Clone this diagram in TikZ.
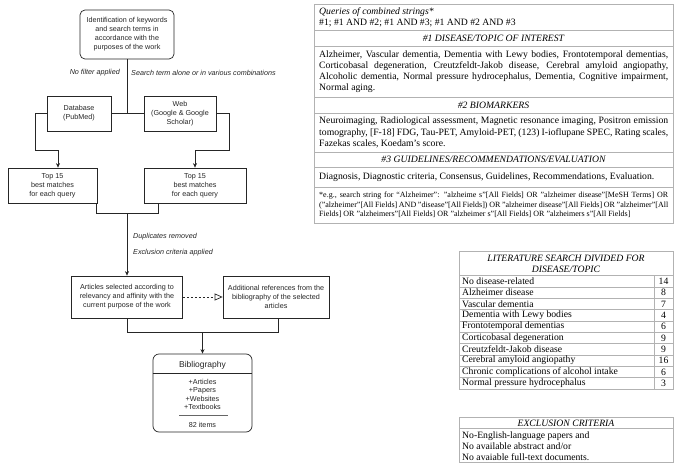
\documentclass[tikz,border=0pt]{standalone}
\usepackage{fontspec}
\setmainfont{Liberation Serif}
\newfontfamily\sansA{Liberation Sans}
\usetikzlibrary{arrows.meta}
\newcommand\fcsize{\sansA\fontsize{7.2}{9}\selectfont}
\newcommand\tbsize{\fontsize{9.7}{11.2}\selectfont}
\newcommand\fnsize{\fontsize{8}{9.5}\selectfont}
\newcommand\jl[1]{\makebox[349pt][s]{#1}}
\colorlet{tline}{black!30}
\colorlet{fcline}{black!85}
\begin{document}
\begin{tikzpicture}[x=1pt,y=-1pt,
  fcbox/.style={draw=fcline, line width=0.7pt, font=\fcsize, align=center, inner sep=0pt, text=black!85},
  conn/.style={draw=fcline, line width=0.7pt},
  arr/.style={conn, -{Stealth[length=4.5pt,width=4pt]}},
  lbl/.style={font=\sansA\itshape\fontsize{7.2}{9}\selectfont, inner sep=0pt, text=black!85},
  tb/.style={draw=tline, line width=0.6pt},
  ttext/.style={font=\tbsize, inner sep=0pt, align=left},
  thead/.style={font=\tbsize\itshape, inner sep=0pt, align=center},
]
\fill[white, use as bounding box] (0,0) rectangle (675,463);

% ---------------- flowchart ----------------
\node[fcbox, rounded corners=5pt, minimum width=94pt, minimum height=49pt] (top) at (127,34.5)
  {Identification of keywords\\and search terms in\\accordance with the\\purposes of the work};
\node[fcbox, minimum width=64pt, minimum height=35pt] (db) at (79,113.5) {Database\\(PubMed)};
\node[fcbox, minimum width=72pt, minimum height=35pt] (web) at (180,113.5) {Web\\(Google \& Google\\Scholar)};
\node[fcbox, minimum width=89pt, minimum height=35pt] (t15a) at (52.5,185.5) {Top 15\\best matches\\for each query};
\node[fcbox, minimum width=102pt, minimum height=35pt] (t15b) at (195,185.5) {Top 15\\best matches\\for each query};
\node[fcbox, minimum width=111pt, minimum height=42pt] (art) at (127,297)
  {Articles selected according to\\relevancy and affinity with the\\current purpose of the work};
\node[fcbox, minimum width=106pt, minimum height=42pt] (add) at (276,297)
  {Additional references from the\\bibliography of the selected\\articles};
\node[fcbox, rounded corners=6pt, minimum width=99pt, minimum height=78pt] (bib) at (202.5,393) {};

\node[lbl, anchor=east] (nf) at (120,73) {No filter applied};
\node[lbl, anchor=west] (st) at (131,73) {Search term alone or in various combinations};
\node[lbl, anchor=west] (dr) at (133,237) {Duplicates removed};
\node[lbl, anchor=west] (ec) at (133,253) {Exclusion criteria applied};

\coordinate (j1) at (127,113.5);
\coordinate (cl) at (35,150);
\coordinate (cr) at (229,150);
\coordinate (m1) at (127,213);
\coordinate (m2) at (202.5,332);

\draw[conn] (top.south) -- (j1);
\draw[conn] (db.east) -- (web.west);
\draw[arr] (db.west) -| (cl) -| ([xshift=5.5pt]t15a.north);
\draw[arr] (web.east) -| (cr) -| (t15b.north);
\draw[conn] ([xshift=-1pt]t15a.south east) |- (m1);
\draw[conn] ([xshift=-37pt]t15b.south) |- (m1);
\draw[arr] (m1) -- (art.north);
\draw[conn, dash pattern=on 2pt off 2pt, -{Triangle[open, length=8pt, width=7pt]}] (art.east) -- (add.west);
\draw[conn] (art.south) |- (m2);
\draw[conn] ([xshift=2pt]add.south) |- (m2);
\draw[arr] (m2) -- (bib.north);

\node[font=\sansA\fontsize{8.5}{10}\selectfont, inner sep=0pt, text=black!85] (bibt) at (202.5,365) {Bibliography};
\draw[conn] (bib.west |- 0,373.3) -- (bib.east |- 0,373.3);
\node[font=\sansA\fontsize{7.2}{8.6}\selectfont, align=center, inner sep=0pt, text=black!85] (bibi) at (202.5,394.5)
  {+Articles\\+Papers\\+Websites\\+Textbooks};
\coordinate (sl1) at (179,415.3);
\coordinate (sl2) at (228,415.3);
\draw[draw=black!60, line width=0.5pt] (sl1) -- (sl2);
\node[font=\sansA\fontsize{7.2}{8.6}\selectfont, inner sep=0pt, text=black!85] (bibn) at (202.5,425) {82 items};

% ---------------- queries table ----------------
\draw[tb] (314,4) rectangle (673,223);
\foreach \yy in {30,46,97,113,152,167,187} \draw[tb] (314,\yy) -- (673,\yy);

\node[ttext, anchor=west] (q1) at (319,17.5)
  {\textit{Queries of combined strings*}\\\#1; \#1 AND \#2; \#1 AND \#3; \#1 AND \#2 AND \#3};
\node[thead] (h1) at (493.5,38) {\#1 DISEASE/TOPIC OF INTEREST};
\node[ttext, anchor=west] (b1) at (319,71.5)
  {\jl{Alzheimer, Vascular dementia, Dementia with Lewy bodies, Frontotemporal dementias,}\\
   \jl{Corticobasal degeneration, Creutzfeldt-Jakob disease, Cerebral amyloid angiopathy,}\\
   \jl{Alcoholic dementia, Normal pressure hydrocephalus, Dementia, Cognitive impairment,}\\
   Normal aging.};
\node[thead] (h2) at (493.5,105) {\#2 BIOMARKERS};
\node[ttext, anchor=west] (b2) at (319,132.5)
  {\jl{Neuroimaging, Radiological assessment, Magnetic resonance imaging, Positron emission}\\
   \jl{tomography, [F-18] FDG, Tau-PET, Amyloid-PET, (123) I-ioflupane SPEC, Rating scales,}\\
   Fazekas scales, Koedam’s score.};
\node[thead] (h3) at (493.5,159.5) {\#3 GUIDELINES/RECOMMENDATIONS/EVALUATION};
\node[ttext, anchor=west] (b3) at (319,177)
  {Diagnosis, Diagnostic criteria, Consensus, Guidelines, Recommendations, Evaluation.};
\node[ttext, anchor=west, font=\fnsize] (fn) at (319,205)
  {\jl{*e.g., search string for “Alzheimer”: "alzheime s"[All Fields] OR "alzheimer disease"[MeSH Terms] OR}\\
   \jl{("alzheimer"[All Fields] AND "disease"[All Fields]) OR "alzheimer disease"[All Fields] OR "alzheimer"[All}\\
   Fields] OR "alzheimers"[All Fields] OR "alzheimer s"[All Fields] OR "alzheimers s"[All Fields]};

% ---------------- literature table ----------------
\draw[tb] (459,251) rectangle (673,389);
\draw[tb] (459,275.5) -- (673,275.5);
\foreach \k in {1,...,9} \draw[tb] (459,{275.5+11.35*\k}) -- (673,{275.5+11.35*\k});
\draw[tb] (654,275.5) -- (654,389);
\node[thead] (lh) at (566,263.5) {LITERATURE SEARCH DIVIDED FOR\\DISEASE/TOPIC};
\foreach \lab/\num [count=\i from 0] in {No disease-related/14, Alzheimer disease/8, Vascular dementia/7,
    Dementia with Lewy bodies/4, Frontotemporal dementias/6, Corticobasal degeneration/9,
    Creutzfeldt-Jakob disease/9, Cerebral amyloid angiopathy/16, Chronic complications of alcohol intake/6,
    Normal pressure hydrocephalus/3} {
  \node[ttext, anchor=west] (r\i) at (462,{275.5+11.35*(\i+0.5)}) {\lab};
  \node[font=\tbsize, inner sep=0pt] (n\i) at (663.5,{275.5+11.35*(\i+0.5)}) {\num};
}

% ---------------- exclusion criteria ----------------
\draw[tb] (459,417) rectangle (673,462.5);
\draw[tb] (459,428.5) -- (673,428.5);
\node[thead] (eh) at (566,423) {EXCLUSION CRITERIA};
\node[ttext, anchor=west, font=\fontsize{9.7}{11}\selectfont] (ei) at (462,446)
  {No-English-language papers and\\No available abstract and/or\\No avaiable full-text documents.};
\end{tikzpicture}
\end{document}
